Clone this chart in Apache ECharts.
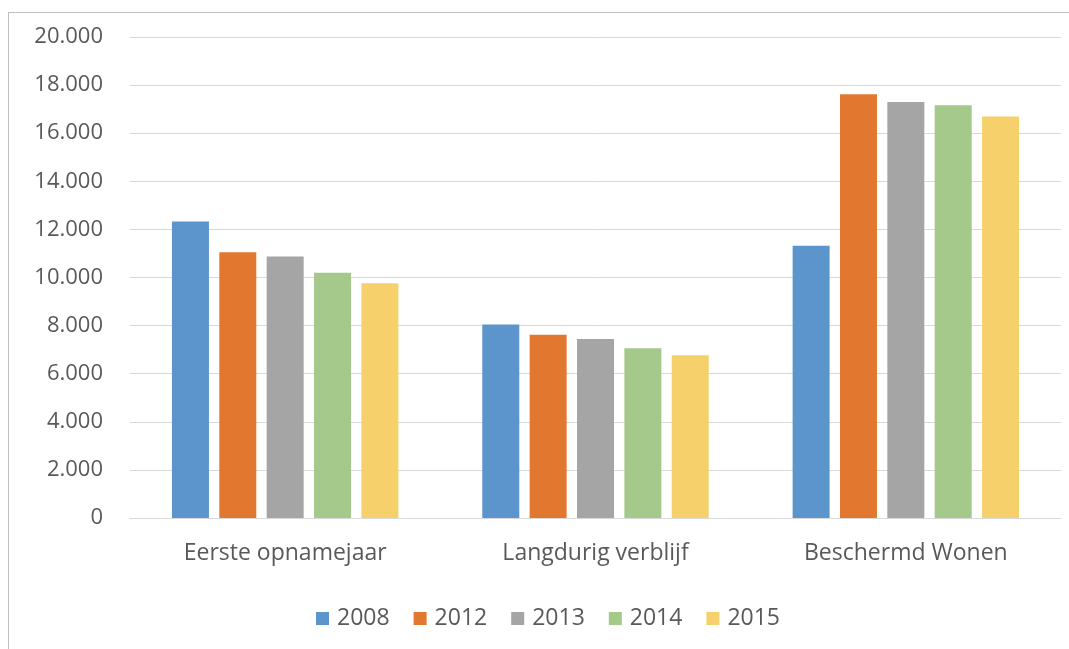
<!DOCTYPE html>
<html>
<head>
<meta charset="utf-8">
<script src="https://cdn.jsdelivr.net/npm/echarts@6/dist/echarts.min.js"></script>
<style>
  html, body { margin: 0; padding: 0; background: #fff; }
  #frame { position: absolute; left: 8px; top: 12px; right: 0; bottom: 0; border-top: 1px solid #bfbfbf; border-left: 1px solid #bfbfbf; }
  #chart { position: absolute; left: 0; top: 0; width: 1069px; height: 649px; }
</style>
</head>
<body>
<div id="frame"></div>
<div id="chart"></div>
<script>
// categorieën en waarden per jaar
var categories = ['Eerste opnamejaar', 'Langdurig verblijf', 'Beschermd Wonen']
var years = ['2008', '2012', '2013', '2014', '2015']
var v2008 = [12330, 8050, 11320]
var v2012 = [11050, 7620, 17620]
var v2013 = [10870, 7440, 17300]
var v2014 = [10200, 7060, 17160]
var v2015 = [9760, 6770, 16690]
var colors = ['#5b95cb', '#e2782f', '#a5a5a5', '#a5c98b', '#f5d06b']

var values = [v2008, v2012, v2013, v2014, v2015]

function fmt(v) {
  // 20000 -> 20.000
  return String(v).replace(/\B(?=(\d{3})+(?!\d))/g, '.')
}

var myChart = echarts.init(document.getElementById('chart'))
myChart.setOption({
  animation: false,
  textStyle: { fontFamily: 'Open Sans' },
  grid: { left: 130, right: 8, top: 37, bottom: 131 },
  legend: {
    data: years,
    bottom: 14,
    left: 311,
    itemWidth: 13,
    itemHeight: 13,
    itemGap: 24,
    icon: 'rect',
    textStyle: { color: '#595959', fontSize: 23, padding: [0, 0, 0, 3] }
  },
  xAxis: {
    type: 'category',
    data: categories,
    axisLine: { lineStyle: { color: '#d9d9d9' } },
    axisTick: { show: false },
    axisLabel: { color: '#595959', fontSize: 23, margin: 24 }
  },
  yAxis: {
    type: 'value',
    min: 0,
    max: 20000,
    interval: 2000,
    axisLine: { show: false },
    axisTick: { show: false },
    splitLine: { lineStyle: { color: '#d9d9d9' } },
    axisLabel: { color: '#595959', fontSize: 22, margin: 27, formatter: fmt }
  },
  series: years.map(function (y, i) {
    return {
      name: y,
      type: 'bar',
      data: values[i],
      barWidth: 37,
      barGap: '28%',
      itemStyle: { color: colors[i] }
    }
  })
})
</script>
</body>
</html>
